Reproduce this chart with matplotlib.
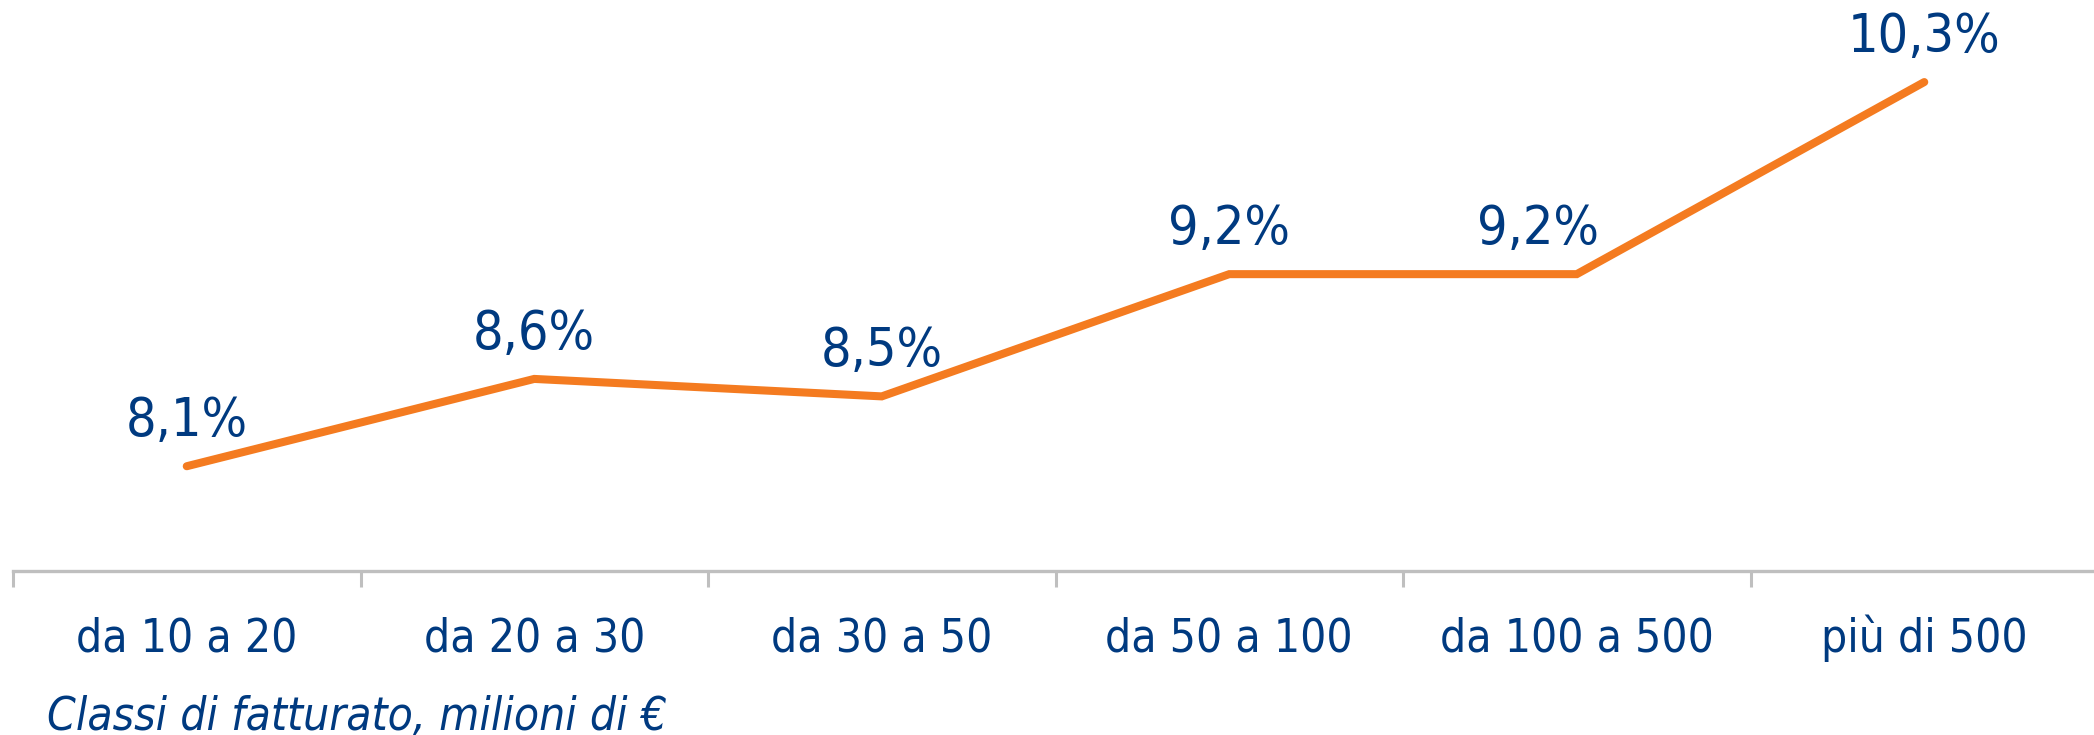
import matplotlib
matplotlib.use("Agg")
import matplotlib.pyplot as plt

# data
categories = ["da 10 a 20", "da 20 a 30", "da 30 a 50", "da 50 a 100", "da 100 a 500", "più di 500"]
values = [8.1, 8.6, 8.5, 9.2, 9.2, 10.3]
value_labels = ["8,1%", "8,6%", "8,5%", "9,2%", "9,2%", "10,3%"]
label_dx = [0, 0, 0, 0, -28, 0]  # points, horizontal nudge of the value labels
xlabel = "Classi di fatturato, milioni di €"

BLUE = "#003a80"
ORANGE = "#f47b20"
GREY = "#bfbfbf"
FONT = dict(family="DejaVu Sans", stretch="condensed")

W, H = 2094, 735
fig = plt.figure(figsize=(W / 100, H / 100), dpi=100)
ax = fig.add_axes([13 / W, 164 / H, 2085 / W, 571 / H])

x = list(range(len(categories)))
ax.plot(x, values, color=ORANGE, lw=5.8, solid_capstyle="round", solid_joinstyle="miter")

for xi, v, lab, dx in zip(x, values, value_labels, label_dx):
    ax.annotate(lab, (xi, v), xytext=(dx, 21.6), textcoords="offset points",
                ha="center", va="baseline", color=BLUE, fontsize=38.5, **FONT)

ax.set_xlim(-0.5, len(categories) - 0.5)
ax.set_ylim(7.5, 10.77)

for side in ("top", "right", "left"):
    ax.spines[side].set_visible(False)
ax.spines["bottom"].set_color(GREY)
ax.spines["bottom"].set_linewidth(2.4)
ax.set_yticks([])

# category labels share one baseline, ~81 px under the axis line
ax.set_xticks(x)
ax.set_xticklabels(categories, color=BLUE, fontsize=33, va="baseline", **FONT)
ax.tick_params(axis="x", which="major", length=0, pad=58)
ax.set_xticks([i - 0.5 for i in range(len(categories) + 1)], minor=True)
ax.tick_params(axis="x", which="minor", length=11.5, width=2.2, color=GREY)

fig.text(47 / W, 5 / H, xlabel, ha="left", va="baseline", color=BLUE,
         fontsize=33, style="italic", **FONT)

fig.savefig("out.png", dpi=100)
